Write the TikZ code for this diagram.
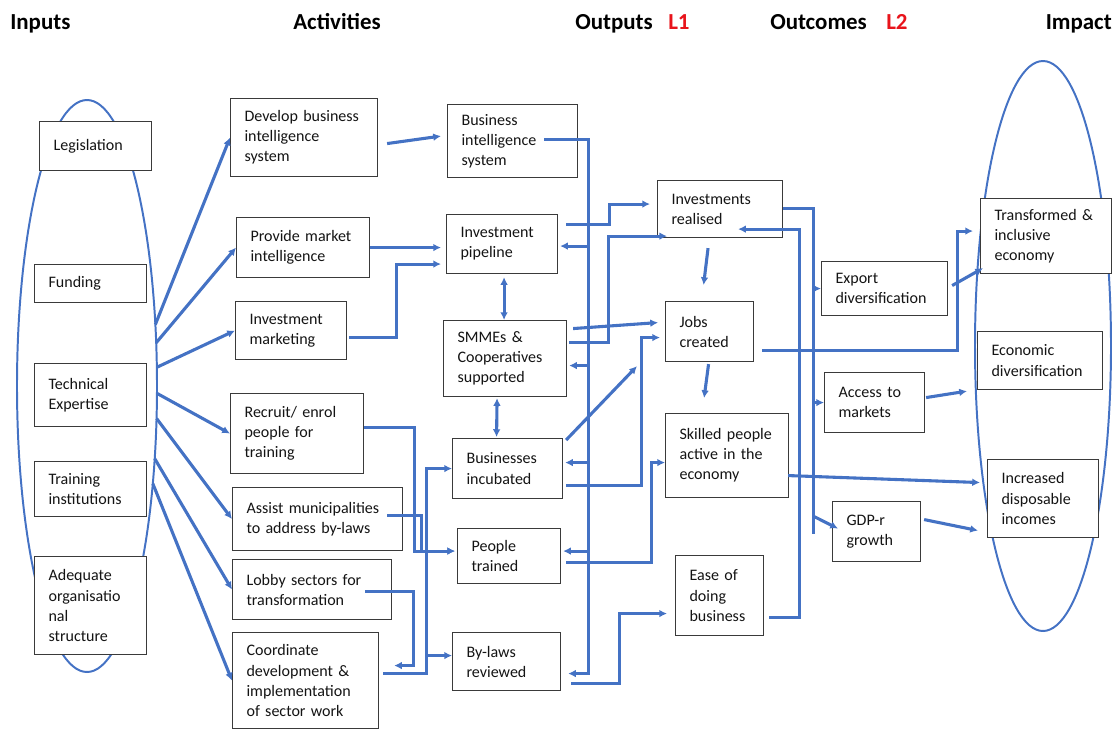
\documentclass[tikz,border=0pt]{standalone}
\usepackage{fontspec}
\setmainfont{Carlito}
\usetikzlibrary{shapes.geometric,arrows.meta,calc}
\definecolor{flowblue}{HTML}{4472C4}
\definecolor{boxgray}{HTML}{3A3A3A}
\definecolor{levelred}{HTML}{E8141B}
\begin{document}
\begin{tikzpicture}[x=0.025cm, y=-0.025cm, >={Latex[length=5.5pt,width=5.5pt]},
	box/.style 2 args={draw=boxgray, fill=white, line width=0.8pt, anchor=north west, align=left,
		inner xsep=0.35cm, inner ysep=0pt, minimum width=#1*0.025cm, minimum height=#2*0.025cm,
		text width=#1*0.025cm-0.7cm, text=black!92, font=\fontsize{11.4}{14.3}\selectfont},
	ring/.style 2 args={draw=flowblue, line width=1.4pt, ellipse, inner sep=0pt, outer sep=0pt,
		minimum width=#1*0.025cm, minimum height=#2*0.025cm},
	flow/.style={draw=flowblue, line width=2.2pt},
	head/.style={font=\fontsize{16.3}{19}\selectfont\bfseries, anchor=base west, inner sep=0pt}]
		\useasboundingbox (0,0) rectangle (1118,731);
		\node (hinputs)[head] at (10,29) {Inputs};
		\node (hactiv)[head] at (293,29) {Activities};
		\node (houtputs)[head] at (575,29) {Outputs};
		\node (hlone)[head, text=levelred] at (668,29) {L1};
		\node (houtcomes)[head] at (770,29) {Outcomes};
		\node (hltwo)[head, text=levelred] at (886,29) {L2};
		\node (himpact)[head, anchor=base east] at (1112,29) {Impact};
		\node (inputs)[ring={140}{572}] at (87,386) {};
		\node (impact)[ring={136}{570}] at (1043,346) {};
		\node (leg)[box={112}{49}] at (39,121) {Legislation};
		\node (fund)[box={112}{38}] at (34,264) {Funding};
		\node (tech)[box={112}{63}] at (34,363) {Technical\\Expertise};
		\node (train)[box={112}{55}] at (34,461) {Training\\institutions};
		\node (orgst)[box={112}{98}] at (34,556) {Adequate\\organisatio\\nal\\structure};
		\node (devbi)[box={147}{78}] at (230,98) {Develop business\\intelligence\\system};
		\node (mktint)[box={133}{60}] at (236,217) {Provide market\\intelligence};
		\node (invmkt)[box={111}{58}] at (235,301) {Investment\\marketing};
		\node (recruit)[box={133}{80}] at (230,393) {Recruit/ enrol\\people for\\training};
		\node (assist)[box={170}{63}] at (232,487) {Assist municipalities\\to address by-laws};
		\node (lobby)[box={159}{60}] at (232,559) {Lobby sectors for\\transformation};
		\node (coord)[box={146}{96}] at (232,632) {Coordinate\\development \&\\implementation\\of sector work};
		\node (bisys)[box={130}{73}] at (447,104) {Business\\intelligence\\system};
		\node (pipeline)[box={111}{59}] at (446,214) {Investment\\pipeline};
		\node (smme)[box={123}{76}] at (443,320) {SMMEs \&\\Cooperatives\\supported};
		\node (incub)[box={110}{60}] at (452,438) {Businesses\\incubated};
		\node (trained)[box={103}{55}] at (457,528) {People\\trained};
		\node (bylaws)[box={108}{58}] at (452,632) {By-laws\\reviewed};
		\node (invreal)[box={125}{57}] at (657,180) {Investments\\realised};
		\node (jobs)[box={88}{60}] at (665,301) {Jobs\\created};
		\node (skilled)[box={123}{84}] at (665,413) {Skilled people\\active in the\\economy};
		\node (ease)[box={88}{80}] at (675,555) {Ease of\\doing\\business};
		\node (export)[box={126}{54}] at (821,261) {Export\\diversification};
		\node (access)[box={100}{60}] at (824,372) {Access to\\markets};
		\node (gdp)[box={88}{60}] at (832,501) {GDP-r\\growth};
		\node (transf)[box={131}{75}] at (980,198) {Transformed \&\\inclusive\\economy};
		\node (econdiv)[box={125}{58}] at (977,331) {Economic\\diversification};
		\node (income)[box={111}{78}] at (987,459) {Increased\\disposable\\incomes};
		\foreach \a/\t in {42/devbi,32/mktint,15/invmkt,-6/recruit,-25/assist,-47/lobby,-56/coord}
		{
			\draw[flow,->](inputs.\a)--(\t.west);
		}
		\draw[flow,->]($(devbi.east)+(9,6)$)--($(bisys.west)+(-6,-5)$);
		\draw[flow,->](mktint.east)--($(mktint.east -| pipeline.west)+(-5,0)$);
		\draw[flow,->]($(invmkt.east)+(2,7)$)--++(47,0)|-($(pipeline.west)+(-5,20)$);
		\draw[flow,->]($(recruit.east)+(0,-6)$)--++(50,0)|-($(trained.west)+(-2,-5)$);
		\draw[flow]($(assist.east)+(-16,-4)$)--++(34,0)|-($(trained.west)+(-30,-5)$);
		\draw[flow,->]($(lobby.east)+(-27,2)$)--++(48,0)|-($(coord.east)+(15,-15)$);
		\coordinate (lowbus) at ($(coord.east)+(47,-7)$);
		\draw[flow,->]($(coord.east)+(4,-7)$)--(lowbus)|-(incub.west);
		\draw[flow,->]($(lowbus |- trained.west)+(0,-5)$)--($(trained.west)+(-2,-5)$);
		\draw[flow,->]($(lowbus |- bylaws.west)+(0,-6)$)--($(bylaws.west)+(0,-6)$);
		\coordinate (bibus) at ($(bisys.east)+(10,-2)$);
		\draw[flow,->]($(bisys.east)+(-34,-2)$)--(bibus)|-($(bylaws.east)+(7,12)$);
		\foreach \n/\d in {pipeline/2,smme/7,incub/-6,trained/-5}
		{
			\draw[flow,->]($(bibus |- \n.east)+(0,\d)$)--($(\n.east)+(2,\d)$);
		}
		\draw[flow,<->]($(pipeline.south)+(2,3)$)--($(smme.north)+(-1,0)$);
		\draw[flow,<->]($(smme.south)+(-8,1)$)--($(incub.north)+(-11,-1)$);
		\draw[flow,->]($(pipeline.east)+(8,-20)$)--++(43,0)|-($(invreal.west)+(-7,-5)$);
		\draw[flow,->]($(smme.east)+(2,-16)$)--++(39,0)|-($(invreal.south west)+(10,-2)$);
		\draw[flow,->]($(smme.east)+(6,-30)$)--($(jobs.west)+(-7,-9)$);
		\draw[flow,->]($(incub.north east)+(3,2)$)--($(jobs.south west)+(-28,4)$);
		\draw[flow,->]($(incub.east)+(3,17)$)--++(75,0)|-($(jobs.west)+(-5,6)$);
		\draw[flow,->]($(trained.east)+(5,6)$)--++(85,0)|-($(skilled.west)+(0,7)$);
		\draw[flow,->]($(bylaws.east)+(10,22)$)--++(48,0)|-($(ease.west)+(-8,18)$);
		\draw[flow,->]($(invreal.south)+(-12,10)$)--($(jobs.north)+(-6,-16)$);
		\draw[flow,->]($(jobs.south)+(-1,2)$)--($(skilled.north)+(-23,-15)$);
		\draw[flow,->]($(ease.east)+(5,22)$)--++(30,0)|-($(invreal.south east)+(-45,-9)$);
		\coordinate (midbus) at ($(invreal.east)+(30,-1)$);
		\draw[flow]($(invreal.east)+(0,-1)$)--(midbus)--++(0,326);
		\draw[flow,->](midbus |- export.west)--(export.west);
		\draw[flow,->](midbus |- access.west)--(access.west);
		\draw[flow,->]($(midbus)+(0,308)$)--($(gdp.west)+(6,-3)$);
		\draw[flow,->]($(jobs.east)+(8,19)$)--++(195,0)|-($(transf.west)+(-7,-5)$);
		\draw[flow,->]($(export.east)+(4,-3)$)--($(transf.south west)+(3,-6)$);
		\draw[flow,->]($(access.east)+(1,-5)$)--($(econdiv.south west)+(-10,1)$);
		\draw[flow,->]($(skilled.east)+(-1,20)$)--($(income.west)+(-7,-16)$);
		\draw[flow,->]($(gdp.east)+(3,-12)$)--($(income.west)+(-9,32)$);
	\end{tikzpicture}
\end{document}
